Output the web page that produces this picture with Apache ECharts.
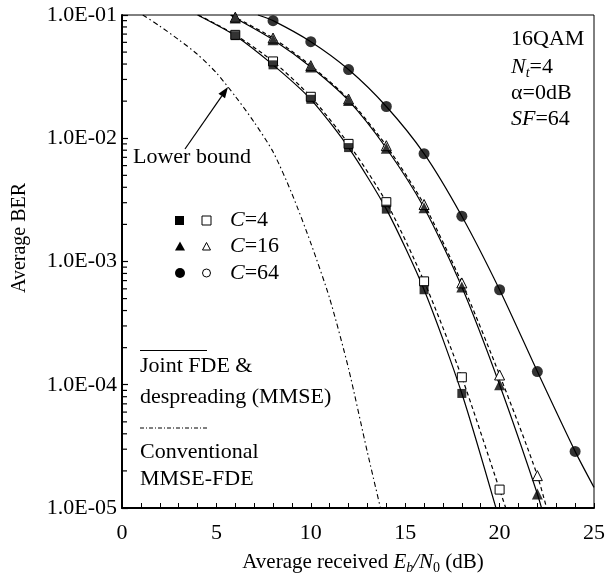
<!DOCTYPE html>
<html><head><meta charset="utf-8">
<script src="https://cdn.jsdelivr.net/npm/echarts@6/dist/echarts.min.js"></script>
<style>html,body{margin:0;padding:0;background:#fff}#c{width:608px;height:578px}</style>
</head><body><div id="c"></div>
<script>
// ---- data ----
const markerX = [6, 8, 10, 12, 14, 16, 18, 20, 22, 24];
const c4Joint  = [0.068, 0.0394, 0.0207, 0.0084, 0.00266, 0.00059, 0.000085, null, null, null];
const c4Conv   = [0.069, 0.042, 0.0217, 0.009, 0.00303, 0.00069, 0.000115, 0.0000141, null, null];
const c16Joint = [0.0946, 0.063, 0.0378, 0.0202, 0.0083, 0.00273, 0.00062, 0.0001, 0.000013, null];
const c16Conv  = [0.096, 0.065, 0.0388, 0.0208, 0.0087, 0.0029, 0.00067, 0.00012, 0.0000183, null];
const c64Joint = [null, 0.09, 0.0607, 0.0361, 0.0181, 0.0075, 0.00233, 0.00059, 0.000128, 0.0000288];
// where each curve enters / leaves the frame
const c4JointEnds  = [[4.0, 0.1], [20, 0.0000079]];
const c4ConvEnds   = [[4.05, 0.1], [21, 0.0000049]];
const c16JointEnds = [[5.75, 0.1], [22.5, 0.000007]];
const c16ConvEnds  = [[5.8, 0.1], [23, 0.000005]];
const c64JointEnds = [[7.2, 0.1], [25, 0.0000147]];
// lower bound (dash-dot)
const lbX = [1.1, 2, 3, 4, 5, 6, 7, 8, 9, 10, 11, 12, 13, 14];
const lbY = [0.1, 0.0813, 0.0631, 0.0479, 0.0339, 0.0219, 0.0135, 0.00776, 0.00355, 0.00141, 0.000501, 0.000135, 0.0000282, 0.0000063];
const xTicks = [0, 5, 10, 15, 20, 25];
const yTickValues = [0.00001, 0.0001, 0.001, 0.01, 0.1];
const yTickLabels = ['1.0E-05', '1.0E-04', '1.0E-03', '1.0E-02', '1.0E-01'];
const yMinorTicks = [2,3,4,5,6,7,8,9].flatMap(m => [1e-5, 1e-4, 1e-3, 1e-2].map(d => m * d));

// ---- helpers ----
const T = 'Liberation Serif';
const FS = 22;
function pts(vals) { return markerX.map((x, i) => vals[i] == null ? null : [x, vals[i]]).filter(p => p); }
function curve(vals, ends) { return [ends[0], ...pts(vals), ends[1]]; }
function lineSeries(data, type, width) {
  return { type: 'line', data, showSymbol: false, smooth: 0.25, clip: true, silent: true,
    lineStyle: { color: '#000', width: width || 1.2, type: type }, z: 3 };
}
function markSeries(data, symbol, size, filled) {
  return { type: 'scatter', data, symbol, symbolSize: size, silent: true, z: filled ? 6 : 4,
    itemStyle: filled ? { color: '#000' } : { color: '#fff', borderColor: '#000', borderWidth: 1, opacity: 1 } };
}
const rich = {
  a: { fontFamily: T, fontSize: FS, fill: '#000' },
  i: { fontFamily: T, fontSize: FS, fontStyle: 'italic', fill: '#000' },
  b: { fontFamily: T, fontSize: 21, fill: '#000' },
  bi: { fontFamily: T, fontSize: 21, fontStyle: 'italic', fill: '#000' },
  s: { fontFamily: T, fontSize: 14, fontStyle: 'italic', fill: '#000', padding: [12, 0, 0, 0] },
  s0: { fontFamily: T, fontSize: 14, fill: '#000', padding: [12, 0, 0, 0] }
};
function text(x, y, t, opts) {
  return Object.assign({ type: 'text', z: 10, silent: true, style: Object.assign({
    text: t, x, y, rich, fill: '#000', fontFamily: T, fontSize: FS,
    align: 'left', textAlign: 'left', verticalAlign: 'middle', textVerticalAlign: 'middle' }, (opts && opts.style) || {}) },
    (opts && opts.el) || {});
}
// arrow
const ax0 = [185, 149], ax1 = [228, 87];
const dx = ax1[0] - ax0[0], dy = ax1[1] - ax0[1], L = Math.hypot(dx, dy), ux = dx / L, uy = dy / L;
const hb = [ax1[0] - ux * 11, ax1[1] - uy * 11];
const arrowHead = [ax1, [hb[0] - uy * 4, hb[1] + ux * 4], [hb[0] + uy * 4, hb[1] - ux * 4]];

const legendY = [220.5, 246.5, 273];
const graphic = [
  text(511, 39, '16QAM'),
  text(511, 67, '{i|N}{s|t}{a|=4}'),
  text(511, 93, 'α=0dB'),
  text(511, 119, '{i|SF}{a|=64}'),
  text(133, 157, 'Lower bound'),
  { type: 'line', silent: true, z: 10, shape: { x1: ax0[0], y1: ax0[1], x2: hb[0], y2: hb[1] }, style: { stroke: '#000', lineWidth: 1.2 } },
  { type: 'polygon', silent: true, z: 10, shape: { points: arrowHead }, style: { fill: '#000' } },
  // legend symbols
  { type: 'rect', silent: true, z: 10, shape: { x: 175, y: legendY[0] - 4.5, width: 9, height: 9 }, style: { fill: '#000' } },
  { type: 'rect', silent: true, z: 10, shape: { x: 202, y: legendY[0] - 4.5, width: 9, height: 9 }, style: { fill: '#fff', stroke: '#000', lineWidth: 1 } },
  { type: 'polygon', silent: true, z: 10, shape: { points: [[180, legendY[1] - 5], [185, legendY[1] + 4], [175, legendY[1] + 4]] }, style: { fill: '#000' } },
  { type: 'polygon', silent: true, z: 10, shape: { points: [[206.5, legendY[1] - 4], [210.5, legendY[1] + 3.5], [202.5, legendY[1] + 3.5]] }, style: { fill: '#fff', stroke: '#000', lineWidth: 1 } },
  { type: 'circle', silent: true, z: 10, shape: { cx: 180, cy: legendY[2], r: 5 }, style: { fill: '#000' } },
  { type: 'circle', silent: true, z: 10, shape: { cx: 206.5, cy: legendY[2], r: 4 }, style: { fill: '#fff', stroke: '#000', lineWidth: 1 } },
  text(230, legendY[0], '{i|C}{a|=4}'),
  text(230, legendY[1], '{i|C}{a|=16}'),
  text(230, legendY[2], '{i|C}{a|=64}'),
  { type: 'line', silent: true, z: 10, shape: { x1: 140, y1: 350.5, x2: 207, y2: 350.5 }, style: { stroke: '#000', lineWidth: 1 } },
  text(140, 366, 'Joint FDE &'),
  text(140, 397, 'despreading (MMSE)'),
  { type: 'line', silent: true, z: 10, shape: { x1: 140, y1: 428, x2: 207, y2: 428 }, style: { stroke: '#000', lineWidth: 1, lineDash: [4, 2, 1, 2] } },
  text(140, 452, 'Conventional'),
  text(140, 479, 'MMSE-FDE'),
  // axis titles
  text(363, 562, '{b|Average received }{bi|E}{s|b}{bi|/N}{s0|0}{b| (dB)}', { style: { align: 'center', textAlign: 'center' } }),
  text(20, 238, 'Average BER', { style: { align: 'center', textAlign: 'center', x: 0, y: 0, fontSize: 20 }, el: { x: 20, y: 238, rotation: Math.PI / 2 } })
];

const chart = echarts.init(document.getElementById('c'), null, { renderer: 'canvas' });
chart.setOption({
  animation: false,
  backgroundColor: '#fff',
  grid: { left: 122, right: 14, top: 15, bottom: 70, show: true, borderColor: '#000', borderWidth: 1, backgroundColor: 'transparent' },
  xAxis: {
    type: 'value', min: 0, max: 25, interval: 5,
    axisLine: { lineStyle: { color: '#000', width: 2 } },
    axisTick: { inside: true, length: 5, lineStyle: { color: '#000', width: 1 } },
    minorTick: { show: true, splitNumber: 5, length: 5, lineStyle: { color: '#000', width: 1 } },
    splitLine: { show: false },
    axisLabel: { color: '#000', fontFamily: T, fontSize: FS, margin: 14,
      formatter: v => xTicks.includes(v) ? String(v) : '' }
  },
  yAxis: {
    type: 'log', logBase: 10, min: 0.00001, max: 0.1,
    axisLine: { lineStyle: { color: '#000', width: 2 } },
    axisTick: { show: true, inside: true, length: 6, lineStyle: { color: '#000', width: 1.2 } },
    splitLine: { show: false },
    axisLabel: { color: '#000', fontFamily: T, fontSize: FS, margin: 5,
      formatter: v => { const i = yTickValues.findIndex(t => Math.abs(Math.log10(t) - Math.log10(v)) < 1e-6); return i >= 0 ? yTickLabels[i] : ''; } }
  },
  graphic,
  series: [
    { type: 'custom', silent: true, clip: false, z: 8, data: yMinorTicks.map(v => [0, v]), encode: { x: 0, y: 1 },
      renderItem: (params, api) => { const p = api.coord([0, api.value(1)]);
        return { type: 'line', shape: { x1: p[0], y1: p[1], x2: p[0] + 5, y2: p[1] }, style: { stroke: '#000', lineWidth: 1.2 } }; } },
    lineSeries(curve(c4Conv, c4ConvEnds), [4, 3]),
    lineSeries(curve(c16Conv, c16ConvEnds), [4, 3]),
    lineSeries(lbX.map((x, i) => [x, lbY[i]]), [5, 3, 1.5, 3], 1.1),
    markSeries(pts(c4Conv), 'rect', 9, false),
    markSeries(pts(c16Conv), 'triangle', 10, false),
    lineSeries(curve(c4Joint, c4JointEnds), 'solid'),
    lineSeries(curve(c16Joint, c16JointEnds), 'solid'),
    lineSeries(curve(c64Joint, c64JointEnds), 'solid'),
    markSeries(pts(c4Joint), 'rect', 9, true),
    markSeries(pts(c16Joint), 'triangle', 11, true),
    markSeries(pts(c64Joint), 'circle', 11, true)
  ]
});
</script></body></html>
